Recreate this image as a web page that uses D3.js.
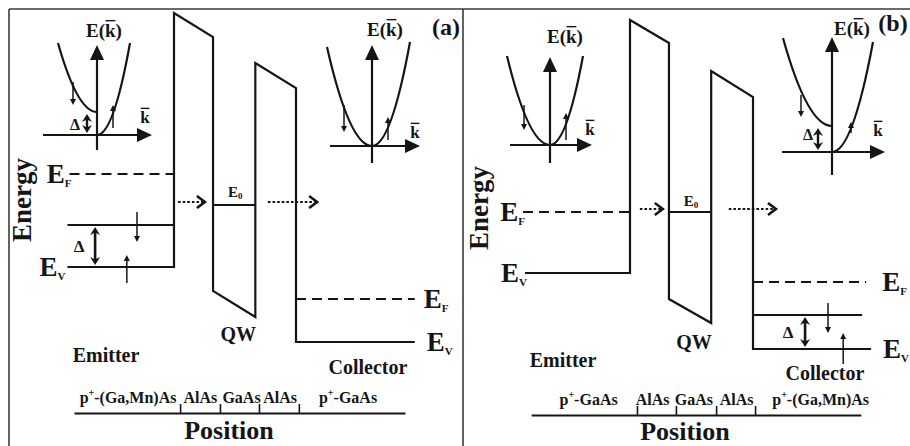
<!DOCTYPE html>
<html>
<head>
<meta charset="utf-8">
<script src="https://cdn.jsdelivr.net/npm/d3@7"></script>
<style>
  html, body { margin: 0; padding: 0; background: #fff; }
  svg { display: block; }
  text { font-family: "Liberation Serif", "Times New Roman", serif; font-weight: bold; fill: #151515; }
</style>
</head>
<body>
<svg id="chart" width="910" height="446"></svg>
<script>
// ===== Panel (a): p+-(Ga,Mn)As emitter / AlAs-GaAs-AlAs well / p+-GaAs collector =====
// Band edges as [position, energy]. Position is in barrier widths (first AlAs barrier starts at 0),
// energy in arbitrary units measured from the emitter valence-band edge.
const bandA = [[-2.62, 0], [0, 0], [0, 2.54], [0.96, 2.30], [0.96, -0.24], [2, -0.50],
               [2, 2.04], [3, 1.79], [3, -0.75], [5.92, -0.75]];
const splitBandA = [[-2.62, 0.42], [0, 0.42]];
const fermiEmitterA = [[-2.57, 0.93], [0, 0.93]];
const fermiCollectorA = [[3, -0.32], [5.92, -0.32]];
const wellLevelA = [[0.96, 0.62], [2, 0.62]];
const tunnelSpansA = [[0.10, 0.76], [2.31, 3.52]];
const tunnelEnergyA = 0.65;
const gapArrowA = [-1.94, 0.40, 0.02];          // [position, from, to]
const spinArrowsA = [[-0.91, 0.55, 0.25], [-1.16, -0.16, 0.12]];
const layerBoundsA = [0.15, 1.13, 2.09, 3.07];
const layerSpanA = [-2.46, 5.68];
const layerNamesA = ["p+-(Ga,Mn)As", "AlAs", "GaAs", "AlAs", "p+-GaAs"];
const layerCentersA = [-1.13, 0.65, 1.66, 2.61, 4.28];

// ===== Panel (b): p+-GaAs emitter / AlAs-GaAs-AlAs well / p+-(Ga,Mn)As collector =====
const bandB = [[-2.56, 0], [0, 0], [0, 2.53], [0.95, 2.30], [0.95, -0.26], [1.98, -0.50],
               [1.98, 2.02], [3, 1.76], [3, -0.76], [5.88, -0.76]];
const splitBandB = [[3, -0.42], [5.66, -0.42]];
const fermiEmitterB = [[-2.61, 0.61], [0, 0.61]];
const fermiCollectorB = [[3, -0.09], [5.76, -0.09]];
const wellLevelB = [[0.95, 0.61], [1.98, 0.61]];
const tunnelSpansB = [[0.24, 0.80], [2.41, 3.56]];
const tunnelEnergyB = 0.64;
const gapArrowB = [4.27, -0.44, -0.74];
const spinArrowsB = [[4.83, -0.30, -0.60], [5.20, -0.91, -0.60]];
const layerBoundsB = [0.17, 1.12, 2.10, 3.05];
const layerSpanB = [-2.41, 5.63];
const layerNamesB = ["p+-GaAs", "AlAs", "GaAs", "AlAs", "p+-(Ga,Mn)As"];
const layerCentersB = [-1.01, 0.55, 1.56, 2.60, 4.65];

// ===== E(k) dispersion sketches, points as [k, E] =====
// branches: [vertex, end of branch]
const dispA1Axes = [[-1.08, 1.10], [-0.15, 0.90]];
const dispA1Branches = [[[0, 0.23], [-0.78, 0.92]], [[0, 0], [0.66, 0.92]]];
const dispA1Spins = [[-0.48, 0.53, 0.30], [0.32, 0.07, 0.30]];
const dispA1Gap = [-0.20, 0.21, 0.02];

const dispA2Axes = [[-0.84, 0.96], [-0.17, 1.01]];
const dispA2Branches = [[[0, 0], [-0.90, 0.99]], [[0, 0], [0.76, 1.04]]];
const dispA2Spins = [[-0.56, 0.41, 0.14], [0.32, 0.06, 0.29]];

const dispB1Axes = [[-0.80, 0.84], [-0.18, 0.88]];
const dispB1Branches = [[[0, 0], [-0.86, 0.89]], [[0, 0], [0.66, 0.89]]];
const dispB1Spins = [[-0.52, 0.40, 0.15], [0.32, 0.05, 0.32]];

const dispB2Axes = [[-1.00, 1.06], [-0.23, 1.15]];
const dispB2Branches = [[[0, 0.26], [-0.98, 1.14]], [[0, 0], [0.82, 1.10]]];
const dispB2Spins = [[-0.62, 0.57, 0.35], [0.38, 0.19, 0.30]];
const dispB2Gap = [-0.28, 0.24, 0.02];

// ------------------------------------------------------------------
const ink = "#151515";
const svg = d3.select("#chart");

// arrow heads drawn at a tip, pointing along angle
const headShapes = {
  axis:    { d: "M0,0 L-15,-7 L-15,7 Z", back: 8 },
  spin:    { d: "M0,0 L-6,-3 L-6,3 Z", back: 3 },
  gap:     { d: "M0,0 L-8,-5 L-5.5,0 L-8,5 Z", back: 4 },
  chevron: { d: "M-8,-6 L0,0 L-8,6", back: 0, open: true }
};
function head(g, x, y, ang, shape) {
  const s = headShapes[shape];
  const p = g.append("path").attr("d", s.d)
    .attr("transform", `translate(${x},${y}) rotate(${ang * 180 / Math.PI})`);
  if (s.open) p.attr("fill", "none").attr("stroke", ink).attr("stroke-width", 2.6)
                .attr("stroke-linejoin", "miter");
  else p.attr("fill", ink);
}
function arrow(g, x1, y1, x2, y2, shape, width, opts = {}) {
  const ang = Math.atan2(y2 - y1, x2 - x1);
  const b = headShapes[shape].back;
  const sx = opts.double ? x1 + b * Math.cos(ang) : x1;
  const sy = opts.double ? y1 + b * Math.sin(ang) : y1;
  const l = g.append("line")
    .attr("x1", sx).attr("y1", sy)
    .attr("x2", x2 - b * Math.cos(ang)).attr("y2", y2 - b * Math.sin(ang))
    .attr("stroke", ink).attr("stroke-width", width);
  if (opts.dash) l.attr("stroke-dasharray", opts.dash);
  head(g, x2, y2, ang, shape);
  if (opts.double) head(g, x1, y1, ang + Math.PI, shape);
}
function subLabel(g, x, y, main, sub, size, subSize, anchor) {
  const t = g.append("text").attr("x", x).attr("y", y).attr("text-anchor", anchor)
    .attr("font-size", size);
  t.append("tspan").text(main);
  t.append("tspan").attr("font-size", subSize).attr("dy", size * 0.16).text(sub);
  return t;
}
function overbarText(g, x, y, str, idx, size) {
  const t = g.append("text").attr("x", x).attr("y", y).attr("text-anchor", "middle")
    .attr("font-size", size).text(str);
  const n = t.node();
  const a = n.getStartPositionOfChar(idx), b = n.getEndPositionOfChar(idx);
  const by = y - size * 0.86;
  g.append("line").attr("x1", a.x + 0.5).attr("x2", b.x - 0.3).attr("y1", by).attr("y2", by)
    .attr("stroke", ink).attr("stroke-width", 1.4);
}

// ---- frame ----
const frame = svg.append("g").attr("stroke", "#3a3a3a").attr("stroke-width", 1.6).attr("fill", "none");
frame.append("line").attr("x1", 9).attr("x2", 910).attr("y1", 9).attr("y2", 9);
frame.append("line").attr("x1", 9).attr("x2", 9).attr("y1", 9).attr("y2", 446);
frame.append("line").attr("x1", 463).attr("x2", 463).attr("y1", 9).attr("y2", 446);

// ---- band diagram ----
function drawBandPanel(p) {
  const g = svg.append("g");
  const x = d3.scaleLinear().domain([0, 3]).range(p.xRange);
  const y = d3.scaleLinear().domain([0, 1]).range(p.yRange);
  const line = d3.line().x(d => x(d[0])).y(d => y(d[1]));

  g.append("path").attr("d", line(p.band)).attr("fill", "none").attr("stroke", ink)
    .attr("stroke-width", 2.2).attr("stroke-linejoin", "miter");
  g.append("path").attr("d", line(p.split)).attr("fill", "none").attr("stroke", ink).attr("stroke-width", 2.2);
  [p.fermiEmitter, p.fermiCollector].forEach(f =>
    g.append("path").attr("d", line(f)).attr("fill", "none").attr("stroke", ink)
      .attr("stroke-width", 2).attr("stroke-dasharray", "10,6"));
  g.append("path").attr("d", line(p.level)).attr("fill", "none").attr("stroke", ink).attr("stroke-width", 2);

  // resonant tunnelling arrows
  p.tunnel.forEach(s => arrow(g, x(s[0]), y(p.tunnelE), x(s[1]), y(p.tunnelE), "chevron", 2.2, { dash: "2.6,2" }));
  // exchange splitting
  arrow(g, x(p.gap[0]), y(p.gap[1]), x(p.gap[0]), y(p.gap[2]), "gap", 2.6, { double: true });
  g.append("text").attr("x", x(p.gap[0]) + p.deltaDx).attr("y", y((p.gap[1] + p.gap[2]) / 2) + 6)
    .attr("text-anchor", "middle").attr("font-size", 17).attr("font-weight", "normal").text("\u0394");
  // spin arrows
  p.spins.forEach(s => arrow(g, x(s[0]), y(s[1]), x(s[0]), y(s[2]), "spin", 1.5));

  // level labels
  const fe = p.fermiEmitter, fc = p.fermiCollector;
  subLabel(g, x(fe[0][0]) + p.efDx, y(fe[0][1]) + 9, "E", "F", 27, 11, "end");
  subLabel(g, x(p.band[0][0]) + p.evDx, y(p.band[0][1]) + 9, "E", "V", 27, 11, "end");
  subLabel(g, x(fc[1][0]) + p.efcDx, y(fc[1][1]) + 9, "E", "F", 27, 11, "start");
  const last = p.band[p.band.length - 1];
  subLabel(g, x(last[0]) + p.evcDx, y(last[1]) + 9, "E", "V", 27, 11, "start");
  subLabel(g, x((p.level[0][0] + p.level[1][0]) / 2) + 1, y(p.level[0][1]) + p.e0Dy, "E", "0", 15, 9, "middle");

  // layer sequence along the growth direction
  const layerScale = d3.scaleLinear().domain(p.layerSpan).range(p.layerSpan.map(x));
  g.append("g").attr("transform", `translate(0,${p.layerY})`)
    .call(d3.axisTop(layerScale).tickValues(p.layerBounds).tickSizeInner(9).tickSizeOuter(0).tickFormat(""))
    .call(a => {
      a.select(".domain").attr("stroke", ink).attr("stroke-width", 2.2);
      a.selectAll(".tick line").attr("stroke", ink).attr("stroke-width", 1.6);
    });
  p.layerNames.forEach((name, i) => {
    const t = g.append("text").attr("x", x(p.layerCenters[i])).attr("y", p.layerY - 10)
      .attr("text-anchor", "middle").attr("font-size", 16);
    if (name.startsWith("p+")) {
      t.append("tspan").text("p");
      t.append("tspan").attr("font-size", 10).attr("dy", -7).text("+");
      t.append("tspan").attr("dy", 7).text(name.slice(2));
    } else t.text(name);
  });

  // region labels and axis titles
  g.append("text").attr("x", p.emitter[0]).attr("y", p.emitter[1]).attr("text-anchor", "middle").attr("font-size", 20).text("Emitter");
  g.append("text").attr("x", x((p.level[0][0] + p.level[1][0]) / 2) + 4).attr("y", p.qwY).attr("text-anchor", "middle").attr("font-size", 20).text("QW");
  g.append("text").attr("x", p.collector[0]).attr("y", p.collector[1]).attr("text-anchor", "middle").attr("font-size", 20).text("Collector");
  g.append("text").attr("x", p.position[0]).attr("y", p.position[1]).attr("text-anchor", "middle").attr("font-size", 26).text("Position");
  g.append("text").attr("transform", `translate(${p.energy[0]},${p.energy[1]}) rotate(-90)`)
    .attr("text-anchor", "middle").attr("font-size", 27).text("Energy");
  g.append("text").attr("x", p.tag[0]).attr("y", p.tag[1]).attr("text-anchor", "middle").attr("font-size", 24).text(p.tagText);
}

// ---- E(k) sketch ----
function drawDispersion(d) {
  const g = svg.append("g");
  const k = d3.scaleLinear().domain([-1, 1]).range([d.cx - 50, d.cx + 50]);
  const e = d3.scaleLinear().domain([0, 1]).range([d.cy, d.cy - 100]);
  arrow(g, k(d.axes[0][0]), e(0), k(d.axes[0][1]), e(0), "axis", 2.2);
  arrow(g, k(0), e(d.axes[1][0]), k(0), e(d.axes[1][1]), "axis", 2.2);
  d.branches.forEach(([v, end]) => {
    const path = d3.path();
    path.moveTo(k(end[0]), e(end[1]));
    path.quadraticCurveTo(k(v[0] + (end[0] - v[0]) / 2), e(v[1]), k(v[0]), e(v[1]));
    g.append("path").attr("d", path.toString()).attr("fill", "none").attr("stroke", ink).attr("stroke-width", 2.2);
  });
  d.spins.forEach(s => arrow(g, k(s[0]), e(s[1]), k(s[0]), e(s[2]), "spin", 1.5));
  if (d.gap) {
    arrow(g, k(d.gap[0]), e(d.gap[1]), k(d.gap[0]), e(d.gap[2]), "gap", 2.4, { double: true });
    g.append("text").attr("x", k(d.deltaAt[0])).attr("y", e(d.deltaAt[1])).attr("text-anchor", "middle")
      .attr("font-size", 16).attr("font-weight", "normal").text("\u0394");
  }
  overbarText(g, k(d.eLabel[0]), e(d.eLabel[1]), "E(k)", 2, 19);
  overbarText(g, k(d.kLabel[0]), e(d.kLabel[1]), "k", 0, 17);
}

drawBandPanel({
  xRange: [174, 296], yRange: [267, 167],
  band: bandA, split: splitBandA, fermiEmitter: fermiEmitterA, fermiCollector: fermiCollectorA,
  level: wellLevelA, tunnel: tunnelSpansA, tunnelE: tunnelEnergyA, gap: gapArrowA, spins: spinArrowsA,
  layerBounds: layerBoundsA, layerSpan: layerSpanA, layerNames: layerNamesA, layerCenters: layerCentersA,
  layerY: 413, deltaDx: -16, efDx: 2, evDx: -2, efcDx: 9, evcDx: 12, e0Dy: -8, qwY: 341,
  emitter: [106, 362], collector: [368, 374], position: [229, 439], energy: [31, 200],
  tag: [446, 35], tagText: "(a)"
});
drawBandPanel({
  xRange: [630, 753], yRange: [273, 173],
  band: bandB, split: splitBandB, fermiEmitter: fermiEmitterB, fermiCollector: fermiCollectorB,
  level: wellLevelB, tunnel: tunnelSpansB, tunnelE: tunnelEnergyB, gap: gapArrowB, spins: spinArrowsB,
  layerBounds: layerBoundsB, layerSpan: layerSpanB, layerNames: layerNamesB, layerCenters: layerCentersB,
  layerY: 415, deltaDx: -17, efDx: 2, evDx: 2, efcDx: 16, evcDx: 12, e0Dy: -6, qwY: 349,
  emitter: [563, 367], collector: [825, 380], position: [685, 440], energy: [488, 208],
  tag: [893, 31], tagText: "(b)"
});

drawDispersion({ cx: 97, cy: 135, axes: dispA1Axes, branches: dispA1Branches, spins: dispA1Spins,
  gap: dispA1Gap, deltaAt: [-0.44, 0.05], eLabel: [0.14, 0.98], kLabel: [0.96, 0.12] });
drawDispersion({ cx: 372, cy: 146, axes: dispA2Axes, branches: dispA2Branches, spins: dispA2Spins,
  eLabel: [0.26, 1.10], kLabel: [0.86, 0.08] });
drawDispersion({ cx: 550, cy: 145, axes: dispB1Axes, branches: dispB1Branches, spins: dispB1Spins,
  eLabel: [0.30, 1.02], kLabel: [0.80, 0.10] });
drawDispersion({ cx: 832, cy: 152, axes: dispB2Axes, branches: dispB2Branches, spins: dispB2Spins,
  gap: dispB2Gap, deltaAt: [-0.48, 0.12], eLabel: [0.40, 1.17], kLabel: [0.92, 0.16] });
</script>
</body>
</html>
